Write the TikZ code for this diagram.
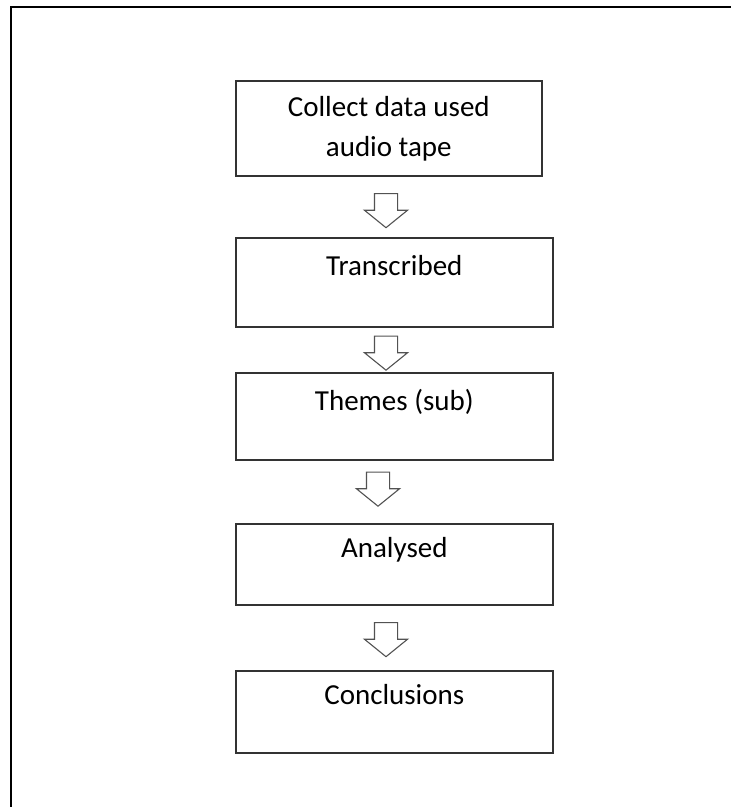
\documentclass[tikz,border=0pt]{standalone}
\usepackage{fontspec}
\setmainfont{Carlito}
\usepackage{tikz}
\usetikzlibrary{shapes.arrows}
\definecolor{rahmengrau}{HTML}{333333}

\begin{document}
\begin{tikzpicture}[x=1pt, y=-1pt,
				stufe/.style={draw=rahmengrau, line width=1.6pt, anchor=north west, inner sep=0pt,
					align=center, font=\fontsize{29}{40}\selectfont},
				pfeil/.style={draw=rahmengrau!85, line width=1.1pt, single arrow, rotate=-90,
					inner xsep=0pt, inner ysep=11pt, minimum height=34pt, minimum width=42pt,
					single arrow head extend=10pt, single arrow tip angle=102}]
				% Bildbereich
				\useasboundingbox (0,0) rectangle (731,807);
				% Rahmen (nur oben und links)
				\draw[line width=2pt] (731,7) -- (11,7) -- (11,807);
				% Kaesten
				\node[stufe, minimum width=306pt, minimum height=95pt] (sammeln) at (235,80) {Collect data used\\audio tape};
				\node[stufe, minimum width=317pt, text height=38pt, text depth=51pt] (transkribiert) at (235,237) {Transcribed};
				\node[stufe, minimum width=317pt, text height=38pt, text depth=49pt] (themen) at (235,372) {Themes (sub)};
				\node[stufe, minimum width=317pt, text height=34pt, text depth=47pt] (analysiert) at (235,523) {Analysed};
				\node[stufe, minimum width=317pt, text height=34pt, text depth=48pt] (schluss) at (235,670) {Conclusions};
				% Pfeile zwischen den Kaesten
				\node[pfeil] (p1) at (386,206) {};
				\node[pfeil] (p2) at (386,348.5) {};
				\node[pfeil] (p3) at (378,484.5) {};
				\node[pfeil] (p4) at (386,635) {};
			\end{tikzpicture}
\end{document}
